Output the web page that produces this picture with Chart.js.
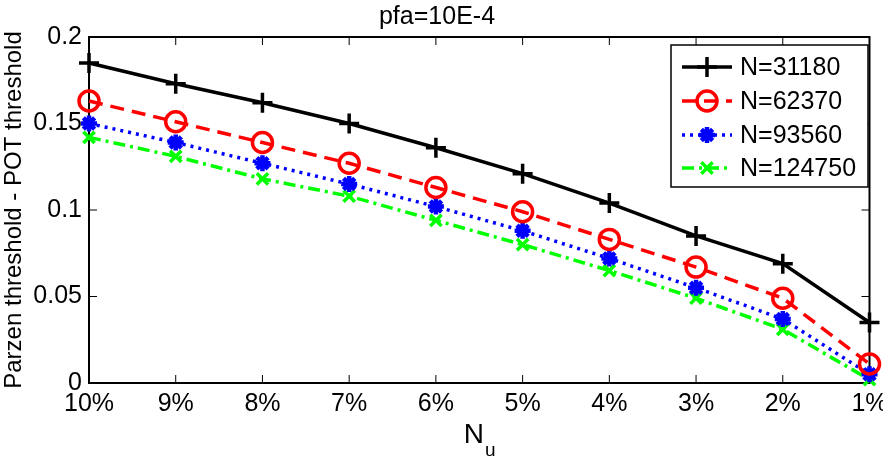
<!DOCTYPE html>
<html>
<head>
<meta charset="utf-8">
<script src="https://cdn.jsdelivr.net/npm/chart.js@4"></script>
<style>
  html, body { margin: 0; padding: 0; background: #fff; }
  #wrap { width: 883px; height: 465px; }
</style>
</head>
<body>
<div id="wrap"><canvas id="c"></canvas></div>
<script>
// data
const nuLabels = ['10%', '9%', '8%', '7%', '6%', '5%', '4%', '3%', '2%', '1%'];
const n31180  = [0.185, 0.173, 0.162, 0.150, 0.136, 0.121, 0.104, 0.085, 0.069, 0.035];
const n62370  = [0.163, 0.151, 0.139, 0.127, 0.113, 0.099, 0.083, 0.067, 0.049, 0.011];
const n93560  = [0.150, 0.139, 0.127, 0.115, 0.102, 0.088, 0.072, 0.055, 0.037, 0.005];
const n124750 = [0.142, 0.131, 0.118, 0.108, 0.094, 0.080, 0.065, 0.049, 0.031, 0.002];
const yTicks  = [0, 0.05, 0.1, 0.15, 0.2];

const FONT = 'Liberation Sans, Arial, Helvetica, sans-serif';

function series(label, data, color, style, radius, dash, pw) {
    return {
        label, data,
        borderColor: color, backgroundColor: color,
        borderWidth: 3.5, borderDash: dash,
        pointStyle: style, pointRadius: radius,
        pointBorderColor: color, pointBorderWidth: pw,
        pointBackgroundColor: style === 'circle' ? 'rgba(0,0,0,0)' : color,
        tension: 0, fill: false, clip: false
    };
}

// MATLAB-like box with inward ticks on all four sides
const framePlugin = {
    id: 'frame',
    beforeDatasetsDraw(chart) {
        const { ctx, chartArea: a, scales: { x, y } } = chart;
        ctx.save();
        ctx.strokeStyle = '#000';
        ctx.lineWidth = 2;
        ctx.strokeRect(a.left, a.top, a.right - a.left, a.bottom - a.top);
        ctx.lineWidth = 1;
        ctx.beginPath();
        x.ticks.forEach((t, i) => {
            const px = x.getPixelForTick(i);
            ctx.moveTo(px, a.bottom); ctx.lineTo(px, a.bottom - 8);
            ctx.moveTo(px, a.top); ctx.lineTo(px, a.top + 8);
        });
        y.ticks.forEach((t, i) => {
            const py = y.getPixelForTick(i);
            ctx.moveTo(a.left, py); ctx.lineTo(a.left + 8, py);
            ctx.moveTo(a.right, py); ctx.lineTo(a.right - 8, py);
        });
        ctx.stroke();
        ctx.restore();
    }
};

// x label with subscript: N_u
const xLabelPlugin = {
    id: 'xlabel',
    afterDraw(chart) {
        const { ctx, chartArea: a } = chart;
        ctx.save();
        ctx.fillStyle = '#000';
        ctx.textBaseline = 'alphabetic';
        ctx.font = '28px ' + FONT;
        const wN = ctx.measureText('N').width;
        ctx.font = '19px ' + FONT;
        const wU = ctx.measureText('u').width;
        const x0 = (a.left + a.right) / 2 - (wN + wU) / 2;
        ctx.font = '28px ' + FONT;
        ctx.fillText('N', x0, 443);
        ctx.font = '19px ' + FONT;
        ctx.fillText('u', x0 + wN + 1, 456);
        ctx.restore();
    }
};

function drawMarker(ctx, style, r, x, y) {
    ctx.beginPath();
    if (style === 'circle') {
        ctx.arc(x, y, r, 0, Math.PI * 2);
    } else {
        if (style === 'cross' || style === 'star') {
            ctx.moveTo(x - r, y); ctx.lineTo(x + r, y);
            ctx.moveTo(x, y - r); ctx.lineTo(x, y + r);
        }
        if (style === 'crossRot' || style === 'star') {
            const d = r * Math.SQRT1_2;
            ctx.moveTo(x - d, y - d); ctx.lineTo(x + d, y + d);
            ctx.moveTo(x - d, y + d); ctx.lineTo(x + d, y - d);
        }
    }
    ctx.stroke();
}

// legend box inside the plot, top right
const legendPlugin = {
    id: 'boxLegend',
    afterDraw(chart) {
        const { ctx } = chart;
        const bx = 671, by = 45, bw = 197, bh = 142;
        const rows = [67, 101, 135, 168];
        ctx.save();
        ctx.fillStyle = '#fff';
        ctx.fillRect(bx, by, bw, bh);
        ctx.strokeStyle = '#000';
        ctx.lineWidth = 1.5;
        ctx.strokeRect(bx, by, bw, bh);
        chart.data.datasets.forEach((ds, i) => {
            const ry = rows[i];
            ctx.strokeStyle = ds.borderColor;
            ctx.lineWidth = 3.5;
            ctx.setLineDash(ds.borderDash || []);
            ctx.beginPath();
            ctx.moveTo(682, ry); ctx.lineTo(732, ry);
            ctx.stroke();
            ctx.setLineDash([]);
            ctx.lineWidth = ds.pointBorderWidth;
            drawMarker(ctx, ds.pointStyle, ds.pointRadius, 707, ry);
            ctx.fillStyle = '#000';
            ctx.font = '25px ' + FONT;
            ctx.textBaseline = 'middle';
            ctx.fillText(ds.label, 740, ry + 1);
        });
        ctx.restore();
    }
};

new Chart(document.getElementById('c'), {
    type: 'line',
    data: {
        labels: nuLabels,
        datasets: [
            series('N=31180', n31180, '#000000', 'cross', 10, [], 3.5),
            series('N=62370', n62370, '#ff0000', 'circle', 10, [14, 8], 3.5),
            series('N=93560', n93560, '#0000ff', 'star', 8, [3, 5], 4.5),
            series('N=124750', n124750, '#00ff00', 'crossRot', 8, [12, 5, 3, 5], 3.5)
        ]
    },
    options: {
        responsive: true,
        maintainAspectRatio: false,
        animation: false,
        layout: { padding: { top: 0, right: 9, bottom: 0, left: 0 } },
        plugins: {
            legend: { display: false },
            tooltip: { enabled: false },
            title: {
                display: true,
                text: 'pfa=10E-4',
                color: '#000',
                font: { family: FONT, size: 25, weight: 'normal' },
                padding: { top: 2, bottom: 5 }
            }
        },
        scales: {
            x: {
                type: 'category',
                offset: false,
                grid: { display: false, drawTicks: false },
                border: { display: false },
                ticks: {
                    color: '#000', autoSkip: false, maxRotation: 0,
                    font: { family: FONT, size: 25 }, padding: 6
                },
                afterFit(s) { s.height = 82; s.paddingLeft = 0; s.paddingRight = 0; }
            },
            y: {
                min: 0, max: 0.2,
                grid: { display: false, drawTicks: false },
                border: { display: false },
                afterBuildTicks(s) { s.ticks = yTicks.map(v => ({ value: v })); },
                ticks: {
                    color: '#000',
                    font: { family: FONT, size: 25 }, padding: 7,
                    callback: v => String(v)
                },
                title: {
                    display: true,
                    text: 'Parzen threshold - POT threshold',
                    color: '#000',
                    font: { family: FONT, size: 24 },
                    padding: { top: 0, bottom: 0 }
                },
                afterFit(s) { s.width = 89; s.paddingTop = 0; s.paddingBottom = 0; }
            }
        }
    },
    plugins: [framePlugin, xLabelPlugin, legendPlugin]
});
</script>
</body>
</html>
